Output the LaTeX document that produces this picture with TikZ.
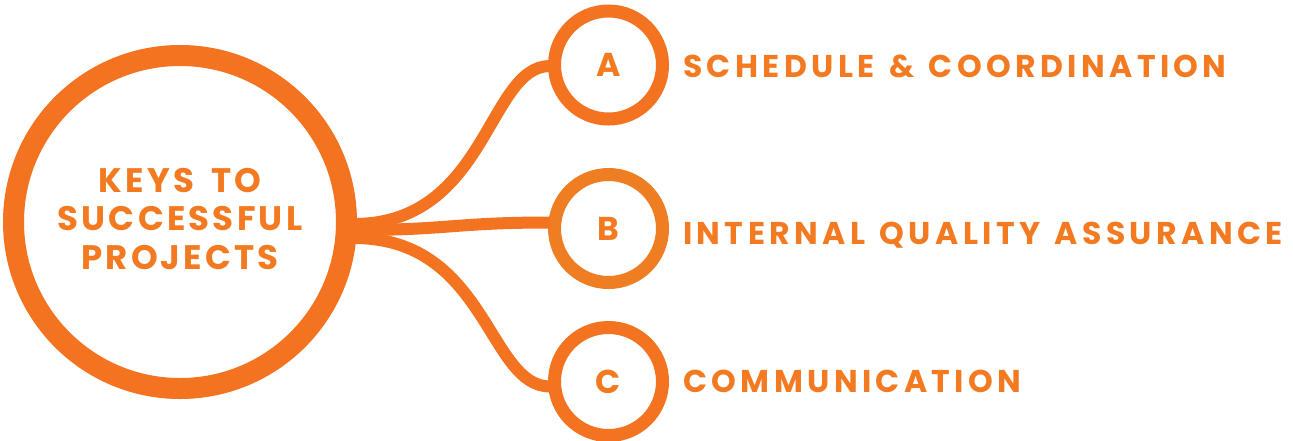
\documentclass[tikz,border=0pt]{standalone}
\usepackage{fontspec}
\newfontfamily\gfont[LetterSpace=14,WordSpace=1.3]{Poppins}
\newfontfamily\kfont[LetterSpace=9.5,WordSpace=1.6]{Poppins}
\definecolor{org}{HTML}{F37321}
\definecolor{orgb}{HTML}{EF7D22}
\definecolor{orgt}{HTML}{F47A21}
\begin{document}
\begin{tikzpicture}[x=1pt,y=-1pt,
  ring/.style={circle,draw=org,fill=white,inner sep=0pt},
  bigring/.style={ring,line width=21pt,minimum size=333pt},
  smallring/.style={ring,line width=13pt,minimum size=108pt},
  letter/.style={text=orgt,font=\gfont\bfseries\fontsize{33}{33}\selectfont},
  label/.style={anchor=base west,inner sep=0pt,text=orgt,font=\gfont\bfseries\fontsize{31.5}{31.5}\selectfont},
  link/.style={draw=org,line width=12pt}]
\useasboundingbox (0,0) rectangle (1293,440);
\node[bigring] (k) at (180,222) {};
\node[inner sep=0pt,align=center,text=orgt,font=\kfont\bfseries\fontsize{34}{38.5}\selectfont] (kt) at (180,219) {KEYS TO\\SUCCESSFUL\\PROJECTS};
\node[smallring] (a) at (608.5,65) {};
\node[smallring,draw=orgb] (b) at (608.5,228.5) {};
\node[smallring] (c) at (608.5,381.5) {};
\node[letter] (al) at (a) {A};
\node[letter] (bl) at (b) {B};
\node[letter] (cl) at (c) {C};
\draw[link] ([xshift=-3pt,yshift=-2pt]k.east) .. controls +(133,0) and +(-62,0) .. ([xshift=2pt,yshift=-1pt]a.west);
\draw[link] ([xshift=-3pt,yshift=-8pt]k.east) .. controls +(95,0) and +(-95,0) .. ([xshift=2pt,yshift=6pt]b.west);
\draw[link] ([xshift=-3pt,yshift=-16pt]k.east) .. controls +(133,0) and +(-62,0) .. ([xshift=2pt,yshift=-5pt]c.west);
\node[label] (la) at (683,77) {SCHEDULE \& COORDINATION};
\node[label] (lb) at (683,244.5) {INTERNAL QUALITY ASSURANCE};
\node[label] (lc) at (683,392) {COMMUNICATION};
\end{tikzpicture}
\end{document}
